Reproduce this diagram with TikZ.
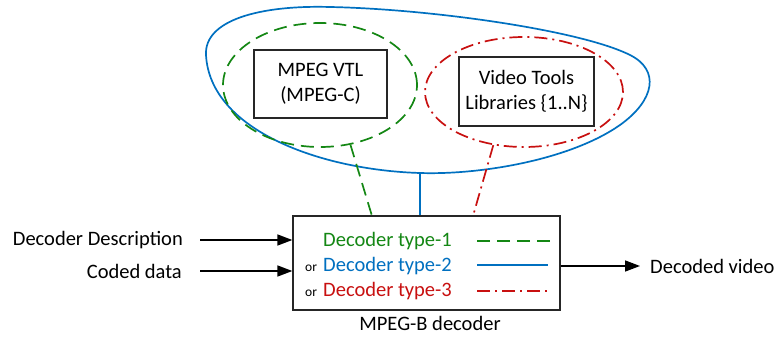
\documentclass[tikz,border=0pt]{standalone}
\usepackage{fontspec}
\setmainfont{Carlito}
\usetikzlibrary{arrows.meta,shapes.geometric}
\definecolor{cgreen}{RGB}{20,135,20}
\definecolor{cblue}{RGB}{0,112,192}
\definecolor{cred}{RGB}{200,16,16}
\tikzset{
  box/.style={draw=black!85, line width=1.3pt, fill=white, inner sep=0pt},
  txt/.style={inner sep=0pt, font=\fontsize{20.5}{25}\selectfont},
  smalltxt/.style={inner sep=0pt, font=\fontsize{13.5}{16}\selectfont},
  arr/.style={line width=1.6pt, -{Triangle[length=15pt,width=11pt]}},
  gdash/.style={line width=1.7pt, dash pattern=on 13pt off 7pt},
  rdash/.style={line width=1.7pt, dash pattern=on 13pt off 5pt on 2pt off 5pt},
  gline/.style={cgreen, gdash},
  bline/.style={cblue, line width=1.7pt},
  rline/.style={cred, rdash},
}
\begin{document}
\begin{tikzpicture}[x=1pt,y=-1pt]
\useasboundingbox (0,0) rectangle (777,342);
% blue blob
\draw[bline] (206,55) .. controls (204,20) and (260,5) .. (330,7)
  .. controls (430,9) and (580,30) .. (630,55)
  .. controls (660,70) and (655,100) .. (620,125)
  .. controls (570,160) and (480,175) .. (420,173)
  .. controls (320,170) and (210,130) .. (206,55) -- cycle;
\coordinate (blobb) at (420,173);
% ellipses
\node[ellipse, draw=cgreen, gdash, minimum width=194pt, minimum height=124pt, inner sep=0pt] (gell) at (320,85) {};
\node[ellipse, draw=cred, rdash, minimum width=198pt, minimum height=110pt, inner sep=0pt] (rell) at (524,92) {};
% inner boxes
\node[box, minimum width=133pt, minimum height=68pt] (vtl) at (320.5,84) {};
\node[txt, align=center] (vtlt) at (vtl.center) {MPEG VTL\\(MPEG-C)};
\node[box, minimum width=135pt, minimum height=69pt] (vtb) at (526.5,91.5) {};
\node[txt, align=center] (vtbt) at (vtb.center) {Video Tools\\Libraries \{1..N\}};
% decoder box
\node[box, minimum width=267pt, minimum height=94pt] (dec) at (426.5,263) {};
\node[txt, anchor=north] (decl) at (430,316) {MPEG-B decoder};
% connectors
\coordinate (gend) at (372,216);
\coordinate (rend) at (473,216);
\draw[gline] (gell.-63) -- (gend);
\draw[bline] (blobb) -- (blobb |- dec.north);
\draw[rline] (rell.-120) -- (rend);
% inside texts
\node[txt, anchor=west, text=cgreen] (t1) at (323,241) {Decoder type-1};
\node[smalltxt, anchor=west] (or2) at (305,268) {or};
\node[txt, anchor=west, text=cblue] (t2) at (323,266) {Decoder type-2};
\node[smalltxt, anchor=west] (or3) at (305,293) {or};
\node[txt, anchor=west, text=cred] (t3) at (323,291) {Decoder type-3};
\coordinate (l1a) at (477,241); \coordinate (l1b) at (550,241);
\coordinate (l2a) at (477,265); \coordinate (l2b) at (548,265);
\coordinate (l3a) at (477,291); \coordinate (l3b) at (550,291);
\draw[gline] (l1a) -- (l1b);
\draw[bline] (l2a) -- (l2b);
\draw[rline] (l3a) -- (l3b);
% inputs/outputs
\node[txt, anchor=east] (dd) at (183,240) {Decoder Description};
\node[txt, anchor=east] (cd) at (182,271) {Coded data};
\node[txt, anchor=west] (dv) at (650,266) {Decoded video};
\draw[arr] ([xshift=17pt]dd.east) -- (dd.east -| dec.west);
\draw[arr] ([xshift=18pt]cd.east) -- (cd.east -| dec.west);
\draw[arr] (dec.east |- dv.west) -- ([xshift=-10pt]dv.west);
\end{tikzpicture}
\end{document}
